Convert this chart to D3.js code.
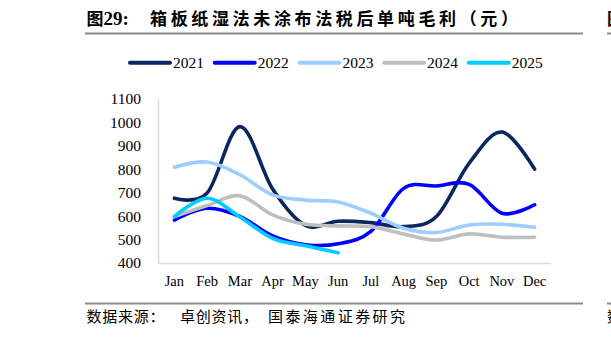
<!DOCTYPE html>
<html>
<head>
<meta charset="utf-8">
<script src="https://cdn.jsdelivr.net/npm/d3@7"></script>
<style>
  body { margin: 0; background: #fff; }
  svg { display: block; }
  .serif { font-family: 'Liberation Serif', 'Times New Roman', 'DejaVu Serif', serif; }
</style>
</head>
<body>
<script>
// chart size
const c_width = 611;
const c_height = 337;

// data
const months = ['Jan','Feb','Mar','Apr','May','Jun','Jul','Aug','Sep','Oct','Nov','Dec'];
const years = ['2021','2022','2023','2024','2025'];
const colors = ['#0c2660','#0000ff','#9fcdff','#bfbfbf','#00ccff'];
const v2021 = [676, 698, 981, 715, 560, 578, 572, 555, 598, 825, 958, 800];
const v2022 = [583, 633, 598, 515, 478, 482, 535, 718, 728, 735, 612, 648];
const v2023 = [808, 830, 776, 690, 668, 660, 612, 548, 530, 562, 565, 552];
const v2024 = [598, 645, 686, 605, 565, 558, 555, 524, 498, 524, 510, 510];
const v2025 = [598, 676, 596, 505, 473, 444];
const yTicks = [400, 500, 600, 700, 800, 900, 1000, 1100];
const series = [v2021, v2022, v2023, v2024, v2025];

const svg = d3.select('body').append('svg')
  .attr('width', c_width)
  .attr('height', c_height);

svg.append('rect').attr('width', c_width).attr('height', c_height).attr('fill', '#fff');

const cjk = "'Noto Sans CJK SC', 'Noto Sans', sans-serif";

//title
const title = svg.append('text')
  .attr('y', 25)
  .style('font-family', cjk)
  .attr('font-weight', 700)
  .attr('font-size', 17)
  .attr('fill', '#000');
title.append('tspan').attr('x', 86.5).text('图');
title.append('tspan').attr('class', 'serif').attr('font-size', 19).text('29:');
title.append('tspan').attr('x', 150)
  .attr('textLength', 368).attr('lengthAdjust', 'spacing')
  .text('箱板纸湿法未涂布法税后单吨毛利（元）');

// rules
svg.append('line').attr('x1', 85).attr('x2', 583).attr('y1', 33.5).attr('y2', 33.5)
  .attr('stroke', '#8c8c8c').attr('stroke-width', 2);
svg.append('line').attr('x1', 85).attr('x2', 583).attr('y1', 303.5).attr('y2', 303.5)
  .attr('stroke', '#8c8c8c').attr('stroke-width', 2);

// bits of the next figure at the right edge
svg.append('line').attr('x1', 607).attr('x2', 611).attr('y1', 33.5).attr('y2', 33.5)
  .attr('stroke', '#8c8c8c').attr('stroke-width', 2);
svg.append('line').attr('x1', 607).attr('x2', 611).attr('y1', 303.5).attr('y2', 303.5)
  .attr('stroke', '#8c8c8c').attr('stroke-width', 2);
svg.append('text').attr('x', 607).attr('y', 25).style('font-family', cjk)
  .attr('font-weight', 700).attr('font-size', 17).text('图');
svg.append('text').attr('x', 607).attr('y', 322).style('font-family', cjk)
  .attr('font-size', 15).text('数');

// source
const src = svg.append('text')
  .attr('y', 322)
  .style('font-family', cjk)
  .attr('font-size', 15)
  .attr('fill', '#000');
src.append('tspan').attr('x', 86.5).attr('textLength', 78).attr('lengthAdjust', 'spacing').text('数据来源：');
src.append('tspan').attr('x', 180).attr('textLength', 78).attr('lengthAdjust', 'spacing').text('卓创资讯，');
src.append('tspan').attr('x', 268).attr('textLength', 137).attr('lengthAdjust', 'spacing').text('国泰海通证券研究');

// scales
const x = d3.scaleBand().domain(months).range([158, 551]);
const y = d3.scaleLinear().domain([400, 1100]).range([263, 98.7]);

// axes
const xAxis = svg.append('g')
  .attr('transform', 'translate(0,263)')
  .call(d3.axisBottom(x).tickSize(0).tickPadding(13));
xAxis.attr('font-family', null);
xAxis.select('.domain').attr('stroke', '#d9d9d9').attr('stroke-width', 1.5);
xAxis.selectAll('text').attr('class', 'serif').attr('font-size', 14.5).attr('fill', '#000');

const yAxis = svg.append('g')
  .attr('transform', 'translate(158,0)')
  .call(d3.axisLeft(y).tickValues(yTicks).tickFormat(d3.format('d')).tickSize(0).tickPadding(17));
yAxis.attr('font-family', null);
yAxis.select('.domain').attr('stroke', '#d9d9d9').attr('stroke-width', 1.5);
yAxis.selectAll('text').attr('class', 'serif').attr('font-size', 15.5).attr('fill', '#000');

// lines
const line = d3.line()
  .x((d, i) => x(months[i]) + x.bandwidth() / 2)
  .y(d => y(d))
  .curve(d3.curveCardinal.tension(0));

svg.append('g').selectAll('path')
  .data(series)
  .enter()
  .append('path')
  .attr('d', d => line(d))
  .attr('fill', 'none')
  .attr('stroke', (d, i) => colors[i])
  .attr('stroke-width', 3.6)
  .attr('stroke-linecap', 'round')
  .attr('stroke-linejoin', 'round');

//legend
const legend = svg.append('g').attr('transform', 'translate(130,62.7)');
const item = legend.selectAll('g')
  .data(years)
  .enter()
  .append('g')
  .attr('transform', (d, i) => 'translate(' + (i * 84.7) + ',0)');
item.append('line')
  .attr('x1', 0).attr('x2', 40)
  .attr('stroke', (d, i) => colors[i])
  .attr('stroke-width', 4)
  .attr('stroke-linecap', 'round');
item.append('text')
  .attr('class', 'serif')
  .attr('x', 43)
  .attr('dy', '0.35em')
  .attr('font-size', 15.5)
  .attr('fill', '#000')
  .text(d => d);
</script>
</body>
</html>
